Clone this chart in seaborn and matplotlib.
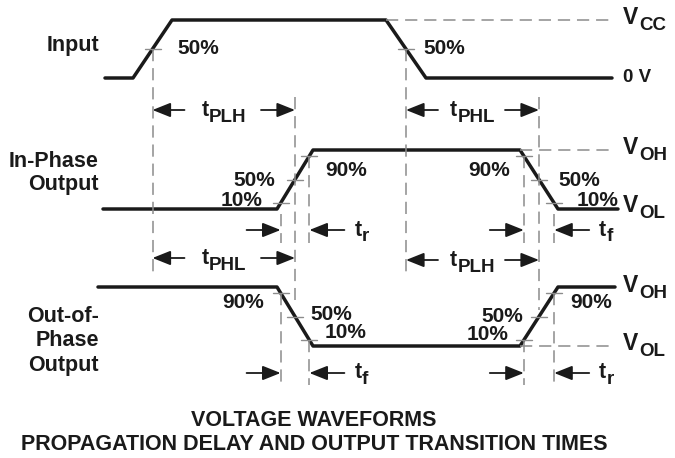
import pandas as pd
import seaborn as sns
import matplotlib.pyplot as plt

# waveform breakpoints: time position and logic level (0 = low, 1 = high)
input_time = [105, 133, 172, 386, 426, 612]
input_level = [0, 0, 1, 1, 0, 0]
inphase_time = [103, 277, 313, 520, 558, 618]
inphase_level = [0, 0, 1, 1, 0, 0]
outphase_time = [98, 277, 313, 520, 558, 615]
outphase_level = [1, 1, 0, 0, 1, 1]

signal_names = ["Input", "In-Phase\nOutput", "Out-of-\nPhase\nOutput"]
pct_text = {0.1: "10%", 0.5: "50%", 0.9: "90%"}
title_lines = ["VOLTAGE WAVEFORMS", "PROPAGATION DELAY AND OUTPUT TRANSITION TIMES"]

# row geometry (y of low / high level)
row_low = [78, 209, 346]
row_high = [20, 150, 287]

ink = "#1a1a1a"
guide = "#8c8c8c"
FONT = "Liberation Sans"

sns.set_theme(style="white")
plt.rcParams["font.family"] = [FONT, "DejaVu Sans"]

fig = plt.figure(figsize=(6.75, 4.58), dpi=100)
ax = fig.add_axes([0, 0, 1, 1])

rows = []
for name, times, levels, lo, hi in zip(
    signal_names,
    [input_time, inphase_time, outphase_time],
    [input_level, inphase_level, outphase_level],
    row_low, row_high,
):
    for t, lv in zip(times, levels):
        rows.append({"signal": name, "x": t, "y": lo + lv * (hi - lo)})
wave = pd.DataFrame(rows)

sns.lineplot(data=wave, x="x", y="y", units="signal", estimator=None,
             sort=False, color=ink, lw=2.5, legend=False, ax=ax)

ax.set_xlim(0, 675)
ax.set_ylim(458, 0)
ax.axis("off")
renderer = fig.canvas.get_renderer()


def edge_x(times, i, frac, rising):
    t0, t1 = times[i], times[i + 1]
    return t0 + (frac if rising else 1 - frac) * (t1 - t0)


def level_y(row, frac):
    return row_low[row] + frac * (row_high[row] - row_low[row])


def dash_v(x, y0, y1):
    ax.plot([x, x], [y0, y1], color=guide, lw=1.1, dashes=(8, 4.5))


def dash_h(y, x0, x1):
    ax.plot([x0, x1], [y, y], color=guide, lw=1.1, dashes=(8, 4.5))


def tick(x, y):
    ax.plot([x - 8, x + 8], [y, y], color=guide, lw=1.0)


def txt(x, y, s, ha="left", size=15):
    return ax.text(x, y, s, ha=ha, va="center", fontsize=size,
                   fontweight="bold", color=ink)


def sub_text(x, y, main, sub, ha="left", size=15.5, sub_size=13.5, drop=6.5):
    m = txt(x, y, main, size=size)
    wm = m.get_window_extent(renderer).width
    s = txt(x + wm + 0.5, y + drop, sub, size=sub_size)
    ws = s.get_window_extent(renderer).width
    if ha == "center":
        shift = (wm + ws) / 2
        m.set_x(x - shift)
        s.set_x(x - shift + wm + 0.5)


def arrow(x_from, x_to, y):
    ax.annotate("", xy=(x_to, y), xytext=(x_from, y),
                arrowprops=dict(arrowstyle="-|>,head_length=0.55,head_width=0.22",
                                mutation_scale=20, lw=1.3, color=ink,
                                shrinkA=0, shrinkB=0))


def span(x0, x1, y, sub):
    arrow(x0 + 32, x0, y)
    arrow(x1 - 34, x1, y)
    sub_text((x0 + x1) / 2, y + 1, "t", sub, ha="center")


def outside(x0, x1, y, sub):
    arrow(x0 - 34, x0, y)
    arrow(x1 + 35, x1, y)
    sub_text(x1 + 45, y, "t", sub)


# crossing points
in_r50 = edge_x(input_time, 1, 0.5, True)
in_f50 = edge_x(input_time, 3, 0.5, False)
ip_r = {f: edge_x(inphase_time, 1, f, True) for f in pct_text}
ip_f = {f: edge_x(inphase_time, 3, f, False) for f in pct_text}
op_f = {f: edge_x(outphase_time, 1, f, False) for f in pct_text}
op_r = {f: edge_x(outphase_time, 3, f, True) for f in pct_text}

# reference rails
dash_h(row_high[0], input_time[3], 615)
dash_h(row_high[1], inphase_time[3], 615)
dash_h(row_low[2], outphase_time[3], 615)

# vertical guides
dash_v(in_r50, level_y(0, 0.5), 272)
dash_v(in_f50, level_y(0, 0.5), 273)
dash_v(ip_r[0.5], 97, 300)
dash_v(ip_f[0.5], 97, 310)
dash_v(ip_r[0.1], 214, 243)
dash_v(ip_r[0.9], level_y(1, 0.9), 243)
dash_v(ip_f[0.9], level_y(1, 0.9), 243)
dash_v(ip_f[0.1], 214, 243)
dash_v(op_f[0.9], level_y(2, 0.9), 385)
dash_v(op_f[0.1], level_y(2, 0.1), 385)
dash_v(op_r[0.1], level_y(2, 0.1), 385)
dash_v(op_r[0.9], level_y(2, 0.9), 385)

# small level ticks on the edges
tick(in_r50, level_y(0, 0.5))
tick(in_f50, level_y(0, 0.5))
for f in pct_text:
    tick(ip_r[f], level_y(1, f))
    tick(ip_f[f], level_y(1, f))
    tick(op_f[f], level_y(2, f))
    tick(op_r[f], level_y(2, f))

# timing arrows
span(in_r50, ip_r[0.5], 110, "PLH")
span(in_f50, ip_f[0.5], 110, "PHL")
span(in_r50, op_f[0.5], 258, "PHL")
span(in_f50, op_r[0.5], 260, "PLH")
outside(ip_r[0.1], ip_r[0.9], 230, "r")
outside(ip_f[0.9], ip_f[0.1], 230, "f")
outside(op_f[0.9], op_f[0.1], 373, "f")
outside(op_r[0.1], op_r[0.9], 373, "r")

# percentage labels
txt(177, 49, pct_text[0.5])
txt(423, 49, pct_text[0.5])
txt(275, 180, pct_text[0.5], ha="right")
txt(262, 200, pct_text[0.1], ha="right")
txt(325, 170, pct_text[0.9])
txt(510, 170, pct_text[0.9], ha="right")
txt(558, 180, pct_text[0.5])
txt(577, 200, pct_text[0.1])
txt(264, 303, pct_text[0.9], ha="right")
txt(310, 314, pct_text[0.5])
txt(325, 333, pct_text[0.1])
txt(523, 316, pct_text[0.5], ha="right")
txt(508, 334, pct_text[0.1], ha="right")
txt(570, 303, pct_text[0.9])

# rail labels
sub_text(623, 17, "V", "CC", size=16.5, drop=8)
txt(623, 78, "0 V", size=13.5)
sub_text(623, 147, "V", "OH", size=16.5, drop=8)
sub_text(623, 206, "V", "OL", size=16.5, drop=8)
sub_text(623, 285, "V", "OH", size=16.5, drop=8)
sub_text(623, 343, "V", "OL", size=16.5, drop=8)

# signal names
ax.text(99, 45, signal_names[0], ha="right", va="center", fontsize=15.5,
        fontweight="bold", color=ink)
ax.text(99, 173, signal_names[1], ha="right", va="center", fontsize=15.5,
        fontweight="bold", color=ink, linespacing=1.12, multialignment="right")
ax.text(99, 341, signal_names[2], ha="right", va="center", fontsize=15.5,
        fontweight="bold", color=ink, linespacing=1.2, multialignment="right")

# caption
txt(314, 420, title_lines[0], ha="center", size=15.5)
txt(314, 445, title_lines[1], ha="center", size=15.5)

fig.savefig("out.png", dpi=100, facecolor="white")
